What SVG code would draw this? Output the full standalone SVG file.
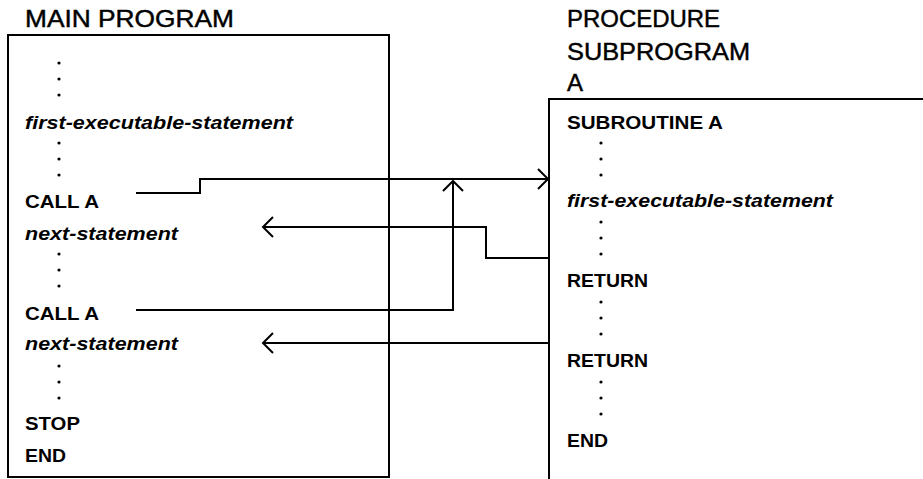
<svg xmlns="http://www.w3.org/2000/svg" width="923" height="479" viewBox="0 0 923 479">
  <style>
    .title { font-family: "Liberation Sans", Arial, sans-serif; font-size: 24px; fill: #000; stroke: #000; stroke-width: 0.45; }
    .stmt { font-family: "Liberation Sans", Arial, sans-serif; font-size: 19px; font-weight: bold; fill: #000; }
    .meta { font-family: "Liberation Sans", Arial, sans-serif; font-size: 19px; font-style: italic; font-weight: bold; fill: #000; }
    .box { fill: none; stroke: #000; stroke-width: 2; }
    .wire { fill: none; stroke: #000; stroke-width: 2; }
    .dot { fill: #000; }
  </style>
  <defs>
    <marker id="chev" markerUnits="userSpaceOnUse" markerWidth="14" markerHeight="24" viewBox="-12 -12 14 24" refX="0" refY="0" orient="auto">
      <path d="M-10,-10 L0,0 L-10,10" fill="none" stroke="#000" stroke-width="2"/>
    </marker>
    <g id="vdots">
      <circle cx="0" cy="0" r="1.6"/>
      <circle cx="0" cy="16" r="1.6"/>
      <circle cx="0" cy="32" r="1.6"/>
    </g>
  </defs>
  <rect width="923" height="479" fill="#fff"/>

  <!-- calling program -->
  <g id="main-program">
    <text class="title" x="25" y="27" textLength="209" lengthAdjust="spacingAndGlyphs">MAIN PROGRAM</text>
    <rect class="box" x="8" y="35" width="381" height="442"/>
    <use href="#vdots" x="59" y="63" class="dot"/>
    <text class="meta" x="25" y="129" textLength="268" lengthAdjust="spacingAndGlyphs">first-executable-statement</text>
    <use href="#vdots" x="59" y="143" class="dot"/>
    <text class="stmt" x="25" y="208" textLength="74" lengthAdjust="spacingAndGlyphs">CALL A</text>
    <text class="meta" x="25" y="240" textLength="153" lengthAdjust="spacingAndGlyphs">next-statement</text>
    <use href="#vdots" x="59" y="254" class="dot"/>
    <text class="stmt" x="25" y="320" textLength="74" lengthAdjust="spacingAndGlyphs">CALL A</text>
    <text class="meta" x="25" y="350" textLength="153" lengthAdjust="spacingAndGlyphs">next-statement</text>
    <use href="#vdots" x="59" y="366" class="dot"/>
    <text class="stmt" x="25" y="430" textLength="55" lengthAdjust="spacingAndGlyphs">STOP</text>
    <text class="stmt" x="25" y="462" textLength="41" lengthAdjust="spacingAndGlyphs">END</text>
  </g>

  <!-- called subroutine -->
  <g id="subprogram-a">
    <text class="title" x="567" y="27" textLength="153" lengthAdjust="spacingAndGlyphs">PROCEDURE</text>
    <text class="title" x="567" y="60" textLength="183" lengthAdjust="spacingAndGlyphs">SUBPROGRAM</text>
    <text class="title" x="567" y="91">A</text>
    <path class="box" d="M923,99 H549 V479"/>
    <text class="stmt" x="567" y="129" textLength="156" lengthAdjust="spacingAndGlyphs">SUBROUTINE A</text>
    <use href="#vdots" x="601" y="143" class="dot"/>
    <text class="meta" x="567" y="207" textLength="266" lengthAdjust="spacingAndGlyphs">first-executable-statement</text>
    <use href="#vdots" x="601" y="222" class="dot"/>
    <text class="stmt" x="567" y="287" textLength="81" lengthAdjust="spacingAndGlyphs">RETURN</text>
    <use href="#vdots" x="601" y="302" class="dot"/>
    <text class="stmt" x="567" y="367" textLength="81" lengthAdjust="spacingAndGlyphs">RETURN</text>
    <use href="#vdots" x="601" y="382" class="dot"/>
    <text class="stmt" x="567" y="447" textLength="41" lengthAdjust="spacingAndGlyphs">END</text>
  </g>

  <!-- control transfers -->
  <g id="connectors">
    <path class="wire" d="M136,193 H200 V179 H548" marker-end="url(#chev)"/>
    <path class="wire" d="M549,258 H486 V227 H263" marker-end="url(#chev)"/>
    <path class="wire" d="M136,310 H453 V181" marker-end="url(#chev)"/>
    <path class="wire" d="M549,343 H263" marker-end="url(#chev)"/>
  </g>
</svg>
